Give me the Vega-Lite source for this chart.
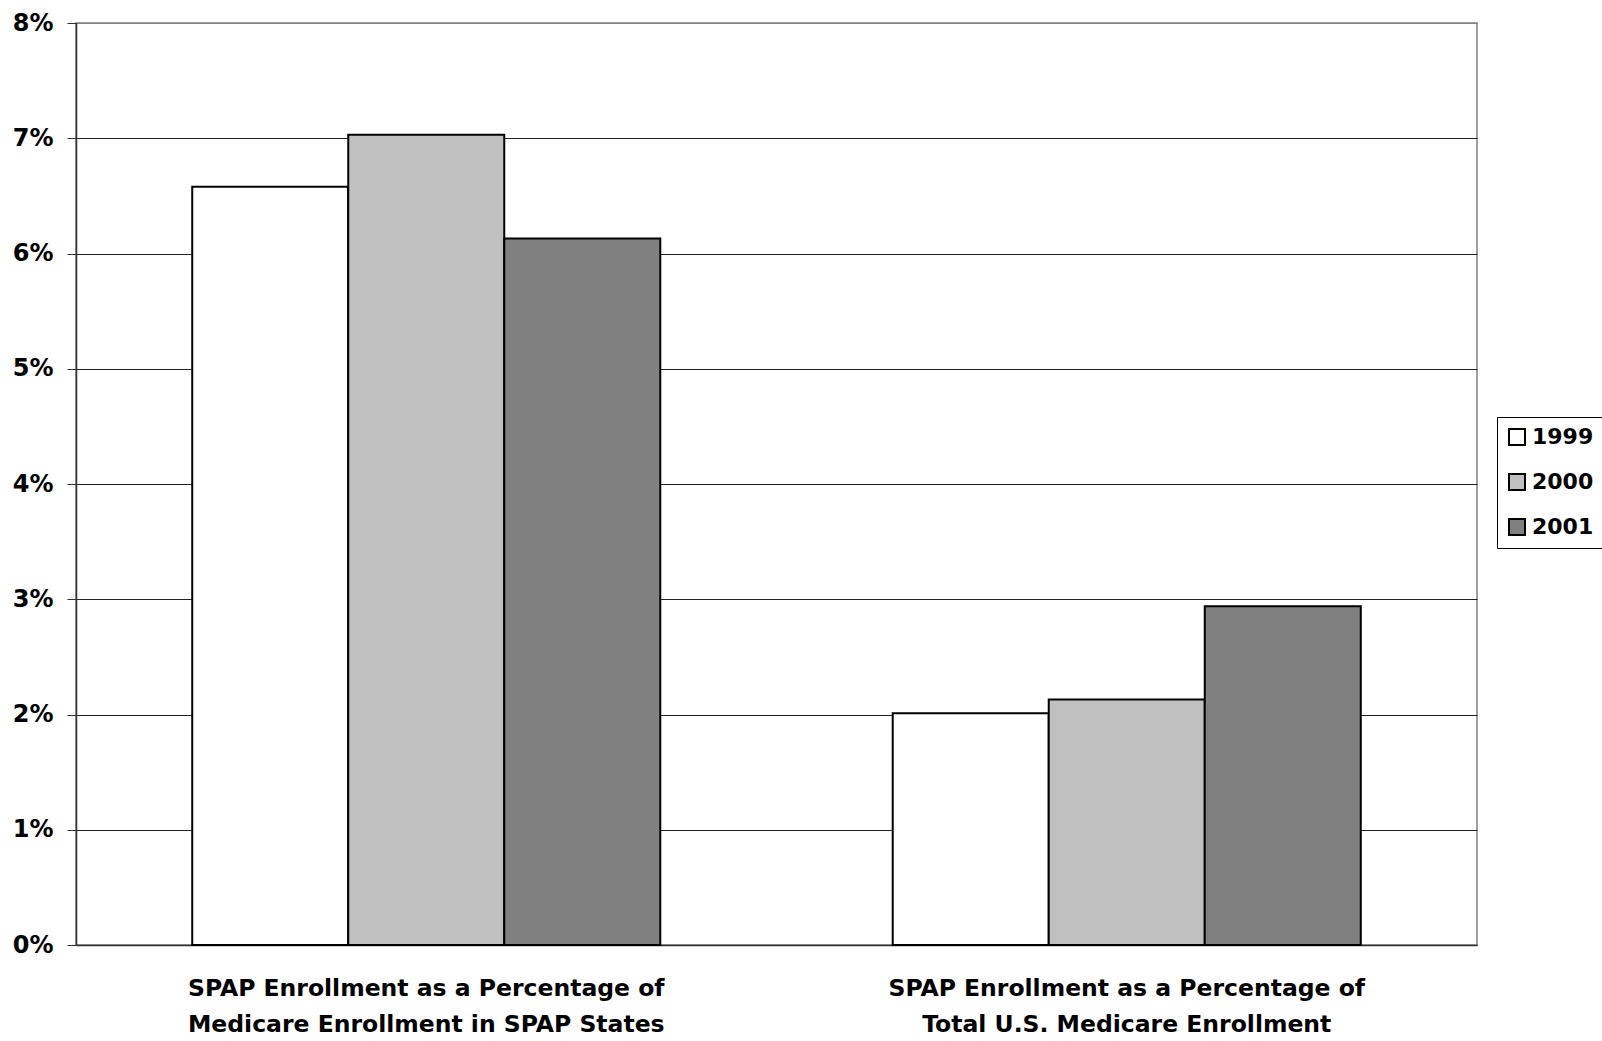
{
  "$schema": "https://vega.github.io/schema/vega-lite/v6.json",
  "autosize": "none",
  "width": 1401,
  "height": 922,
  "padding": {"left": 76, "top": 23, "right": 125, "bottom": 96},
  "background": "white",
  "config": {
    "view": {"stroke": "#808080", "strokeWidth": 1.5},
    "font": "DejaVu Sans"
  },
  "data": {
    "values": [
      {"measure": "SPAP Enrollment as a Percentage of|Medicare Enrollment in SPAP States", "year": "1999", "pct": 0.0658},
      {"measure": "SPAP Enrollment as a Percentage of|Medicare Enrollment in SPAP States", "year": "2000", "pct": 0.0703},
      {"measure": "SPAP Enrollment as a Percentage of|Medicare Enrollment in SPAP States", "year": "2001", "pct": 0.0613},
      {"measure": "SPAP Enrollment as a Percentage of|Total U.S. Medicare Enrollment", "year": "1999", "pct": 0.0201},
      {"measure": "SPAP Enrollment as a Percentage of|Total U.S. Medicare Enrollment", "year": "2000", "pct": 0.0213},
      {"measure": "SPAP Enrollment as a Percentage of|Total U.S. Medicare Enrollment", "year": "2001", "pct": 0.0294}
    ]
  },
  "mark": {"type": "bar", "stroke": "black", "strokeWidth": 2},
  "encoding": {
    "x": {
      "field": "measure",
      "type": "nominal",
      "sort": null,
      "scale": {"paddingInner": 0, "paddingOuter": 0},
      "axis": {
        "title": null,
        "labelAngle": 0,
        "labelExpr": "split(datum.label, '|')",
        "labelFont": "DejaVu Sans",
        "labelFontWeight": "bold",
        "labelFontSize": 23.5,
        "labelColor": "black",
        "labelLineHeight": 36,
        "labelPadding": 31,
        "labelLimit": 0,
        "ticks": false,
        "domainColor": "#333333",
        "domainWidth": 1.5
      }
    },
    "xOffset": {
      "field": "year",
      "type": "nominal",
      "scale": {"paddingInner": 0, "paddingOuter": 0.745}
    },
    "y": {
      "field": "pct",
      "type": "quantitative",
      "scale": {"domain": [0, 0.08], "nice": false},
      "axis": {
        "title": null,
        "format": ".0%",
        "values": [0, 0.01, 0.02, 0.03, 0.04, 0.05, 0.06, 0.07, 0.08],
        "labelOverlap": false,
        "labelFont": "DejaVu Sans",
        "labelFontWeight": "bold",
        "labelFontSize": 24,
        "labelColor": "black",
        "labelPadding": 14,
        "tickSize": 9,
        "tickColor": "#333333",
        "domainColor": "#333333",
        "domainWidth": 1.5,
        "grid": true,
        "gridColor": {"condition": {"test": "datum.value >= 0.08", "value": "#808080"}, "value": "#222222"},
        "gridWidth": 1.2,
        "gridOpacity": 1
      }
    },
    "fill": {
      "field": "year",
      "type": "nominal",
      "scale": {"domain": ["1999", "2000", "2001"], "range": ["#FFFFFF", "#C0C0C0", "#808080"]},
      "legend": {
        "title": null,
        "orient": "none",
        "legendX": 1421,
        "legendY": 394,
        "symbolType": "square",
        "symbolSize": 256,
        "symbolStrokeColor": "black",
        "symbolStrokeWidth": 2,
        "labelFont": "DejaVu Sans",
        "labelFontWeight": "bold",
        "labelFontSize": 22,
        "labelColor": "black",
        "labelOffset": 4,
        "rowPadding": 21,
        "padding": 9,
        "strokeColor": "black",
        "fillColor": "white"
      }
    }
  }
}
